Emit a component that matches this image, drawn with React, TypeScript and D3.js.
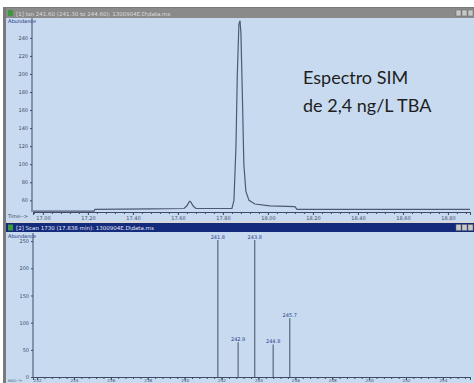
import React, { useEffect, useRef } from 'react';
import * as d3 from 'd3';

// top panel: ion chromatogram
const times = [16.956, 17.227, 17.231, 17.476, 17.627, 17.64, 17.649, 17.653, 17.658, 17.667, 17.68, 17.84, 17.849, 17.858, 17.864, 17.871, 17.876, 17.88, 17.887, 17.893, 17.902, 17.916, 17.942, 18.009, 18.12, 18.129, 18.898];
const abund = [48, 48, 50, 50.5, 51, 54, 58, 59, 58, 54, 51, 51, 60, 120, 200, 255, 259, 245, 170, 100, 70, 60, 56, 54, 53, 50, 50];
const timeTicks = [17.0, 17.2, 17.4, 17.6, 17.8, 18.0, 18.2, 18.4, 18.6, 18.8];
const topYTicks = [60, 80, 100, 120, 140, 160, 180, 200, 220, 240];

// bottom panel: SIM spectrum
const mz = [241.8, 242.9, 243.8, 244.8, 245.7];
const mzAbund = [252, 64, 252, 60, 108];
const mzTicks = [232, 234, 236, 238, 240, 242, 244, 246, 248, 250, 252, 254];
const botYTicks = [0, 50, 100, 150, 200, 250];

const W = 474, H = 383;
const bg = '#c8daf0';
const ink = '#3c4a66';
const font = 'DejaVu Sans';

function App() {
  const ref = useRef<SVGSVGElement>(null);

  useEffect(() => {
    const svg = d3.select(ref.current);
    svg.selectAll('*').remove();

    // window chrome
    svg.append('rect').attr('width', W).attr('height', H).attr('fill', '#fff');
    svg.append('rect').attr('x', 3).attr('y', 7).attr('width', W - 3).attr('height', H - 7).attr('fill', '#7a7a7a');
    svg.append('rect').attr('x', 6).attr('y', 8).attr('width', W - 6).attr('height', 10).attr('fill', '#8a8a8a');
    svg.append('rect').attr('x', 6).attr('y', 18).attr('width', W - 6).attr('height', 203).attr('fill', bg);
    svg.append('rect').attr('x', 6).attr('y', 221).attr('width', W - 6).attr('height', 2).attr('fill', '#d8d8d8');
    svg.append('rect').attr('x', 6).attr('y', 223).attr('width', W - 6).attr('height', 9).attr('fill', '#142a7c');
    svg.append('rect').attr('x', 6).attr('y', 232).attr('width', W - 6).attr('height', H - 232).attr('fill', bg);

    const titles = [
      { y: 13.5, t: '[1] Ion 241.60 (241.30 to 244.60): 1300904E.D\\data.ms', c: '#dcdcdc' },
      { y: 228, t: '[2] Scan 1730 (17.838 min): 1300904E.D\\data.ms', c: '#e8ecf8' },
    ];
    titles.forEach(d => {
      svg.append('rect').attr('x', 8).attr('y', d.y - 3.5).attr('width', 5).attr('height', 6).attr('fill', '#3d9a3a');
      svg.append('text').attr('x', 16).attr('y', d.y + 2).attr('font-size', 5.5)
        .attr('font-family', font).attr('fill', d.c).text(d.t);
      [456, 462, 468].forEach(x => {
        svg.append('rect').attr('x', x).attr('y', d.y - 3.5).attr('width', 5).attr('height', 6)
          .attr('fill', '#c8c8c8').attr('stroke', '#666').attr('stroke-width', 0.5);
      });
    });

    // ---- top chart
    const x1 = d3.scaleLinear().domain([16.956, 18.898]).range([33, 470]);
    const y1 = d3.scaleLinear().domain([46, 262]).range([213, 18]);
    const g1 = svg.append('g');
    g1.append('g').attr('transform', 'translate(0,212)')
      .call(d3.axisBottom(x1).tickValues(d3.range(16.96, 18.9, 0.04)).tickSize(2).tickFormat(() => ''));
    g1.append('g').attr('transform', 'translate(0,212)')
      .call(d3.axisBottom(x1).tickValues(timeTicks).tickSize(3).tickPadding(1).tickFormat(d3.format('.2f')));
    const ya1 = g1.append('g').attr('transform', 'translate(32,0)')
      .call(d3.axisLeft(y1).tickValues(topYTicks).tickSize(2).tickPadding(2));
    g1.selectAll('.tick line').attr('stroke', ink);
    g1.selectAll('.domain').attr('stroke', ink);
    g1.selectAll('text').attr('font-size', 5).attr('font-family', font).attr('fill', ink);
    ya1.select('.domain').attr('d', 'M0,18V212');
    g1.append('text').attr('x', 8).attr('y', 23).attr('font-size', 5).attr('font-family', font)
      .attr('fill', '#1a2f80').text('Abundance');
    g1.append('text').attr('x', 8).attr('y', 218).attr('font-size', 5).attr('font-family', font)
      .attr('fill', ink).text('Time-->');

    const line = d3.line<number>().x((d, i) => x1(times[i])).y(d => y1(d));
    g1.append('path').attr('d', line(abund)).attr('fill', 'none')
      .attr('stroke', '#4d5a72').attr('stroke-width', 1.2);

    // ---- bottom chart
    const x2 = d3.scaleLinear().domain([231.78, 255.47]).range([33, 470]);
    const y2 = d3.scaleLinear().domain([0, 265]).range([377, 233]);
    const g2 = svg.append('g');
    g2.append('g').attr('transform', 'translate(0,377)')
      .call(d3.axisBottom(x2).tickValues(d3.range(232, 255.4, 0.4)).tickSize(2).tickFormat(() => ''));
    const xa2 = g2.append('g').attr('transform', 'translate(0,377)')
      .call(d3.axisBottom(x2).tickValues(mzTicks).tickSize(3).tickPadding(0).tickFormat(d3.format('d')));
    const ya2 = g2.append('g').attr('transform', 'translate(33,0)')
      .call(d3.axisLeft(y2).tickValues(botYTicks).tickSize(2).tickPadding(2));
    ya2.select('.domain').attr('d', 'M0,233V377');
    g2.selectAll('.tick line').attr('stroke', ink);
    g2.selectAll('.domain').attr('stroke', ink);
    ya2.selectAll('text').attr('font-size', 5).attr('font-family', font).attr('fill', ink);
    xa2.selectAll('text').attr('font-size', 4.2).attr('font-family', font).attr('fill', ink).attr('dy', '0.55em');
    g2.append('text').attr('x', 8).attr('y', 238).attr('font-size', 5).attr('font-family', font)
      .attr('fill', '#1a2f80').text('Abundance');
    g2.append('text').attr('x', 8).attr('y', 381.5).attr('font-size', 4.2).attr('font-family', font)
      .attr('fill', ink).text('m/z-->');

    g2.selectAll('.bar').data(mz).join('line').attr('class', 'bar')
      .attr('x1', d => x2(d)).attr('x2', d => x2(d))
      .attr('y1', y2(0)).attr('y2', (d, i) => Math.max(y2(mzAbund[i]), 240))
      .attr('stroke', '#5a6478').attr('stroke-width', 1.2);
    g2.selectAll('.blab').data(mz).join('text').attr('class', 'blab')
      .attr('x', d => x2(d)).attr('y', (d, i) => Math.max(y2(mzAbund[i]), 240) - 1.5)
      .attr('text-anchor', 'middle').attr('font-size', 5).attr('font-family', font)
      .attr('fill', '#2a3f8a').text(d => d.toFixed(1));

    // annotation
    const ann = svg.append('g').attr('font-family', 'Lato').attr('font-size', 18).attr('fill', '#1e1e1e');
    ann.append('text').attr('x', 303).attr('y', 84).text('Espectro SIM');
    ann.append('text').attr('x', 303).attr('y', 112).text('de 2,4 ng/L TBA');
  }, []);

  return <svg ref={ref} width={W} height={H} style={{ position: 'absolute', left: 0, top: 0 }} />;
}

export default App;
